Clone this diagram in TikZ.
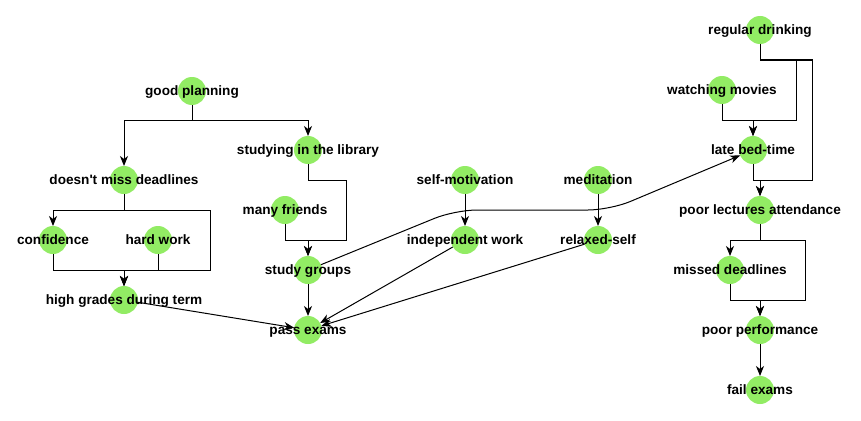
\documentclass[tikz,border=0pt]{standalone}
\usepackage{fontspec}
\setmainfont{Liberation Sans}
\usetikzlibrary{arrows.meta,calc}
\definecolor{nodegreen}{RGB}{146,236,100}
\newcommand\mkcnode[4]{\node[dot] (#1) at (#2,#3) {}; \node[lbl] (#1-t) at ($(#1)+(0,4.8)$) {#4};}
\begin{document}
\begin{tikzpicture}[x=1pt,y=-1pt,
  dot/.style={circle,fill=nodegreen,minimum size=28pt,inner sep=0pt,outer sep=0pt},
  lbl/.style={font=\bfseries\fontsize{13.6}{16}\selectfont,inner sep=0pt,text=black,anchor=base},
  arr/.style={draw=black,line width=1pt,-{Stealth[length=10pt,width=8pt,inset=3pt]}},
  ln/.style={draw=black,line width=1pt}]
\useasboundingbox[fill=white] (0,0) rectangle (861,420);

% left cluster
\mkcnode{gp}{192}{91}{good planning}
\mkcnode{sil}{308}{150}{studying in the library}
\mkcnode{dmd}{124}{180}{doesn\textquotesingle t miss deadlines}
\mkcnode{conf}{53}{240}{confidence}
\mkcnode{hw}{158}{240}{hard work}
\mkcnode{mf}{285}{210}{many friends}
\mkcnode{hg}{124}{300}{high grades during term}
\mkcnode{sg}{308}{270}{study groups}
\mkcnode{pe}{308}{330}{pass exams}
% middle
\mkcnode{sm}{465}{180}{self-motivation}
\mkcnode{med}{598}{180}{meditation}
\mkcnode{iw}{465}{240}{independent work}
\mkcnode{rs}{598}{240}{relaxed-self}
% right
\mkcnode{rd}{760}{30}{regular drinking}
\mkcnode{wm}{722}{90}{watching movies}
\mkcnode{lbt}{753}{150}{late bed-time}
\mkcnode{pla}{760}{210}{poor lectures attendance}
\mkcnode{md}{730}{270}{missed deadlines}
\mkcnode{pp}{760}{330}{poor performance}
\mkcnode{fe}{760}{390}{fail exams}

% bend coordinates
\coordinate (gpb) at (192,120);
\coordinate (dmdb) at (124,210);
\coordinate (boxR1) at (210,210);
\coordinate (boxR2) at (210,270);
\coordinate (hgin) at (124,270);
\coordinate (silb) at (308,180);
\coordinate (silR1) at (346,180);
\coordinate (silR2) at (346,240);
\coordinate (sgin) at (308,240);
\coordinate (rdb) at (760,60);
\coordinate (rdR1) at (796,60);
\coordinate (rdR2) at (796,120);
\coordinate (rdF1) at (812,60);
\coordinate (rdF2) at (812,180);
\coordinate (lbtin) at (753,120);
\coordinate (plain) at (760,180);
\coordinate (plab) at (760,240);
\coordinate (plaR1) at (805,240);
\coordinate (plaR2) at (805,300);
\coordinate (ppin) at (760,300);
\coordinate (cv1) at (455,210);
\coordinate (cv2) at (610,210);

% connectors
\draw[arr] (gp.south) -- (gpb) -| (dmd.north);
\draw[arr] (gp.south) -- (gpb) -| (sil.north);
\draw[arr] (dmd.south) -- (dmdb) -| (conf.north);
\draw[arr] (dmd.south) -- (dmdb) -- (boxR1) -- (boxR2) -- (hgin) -- (hg.north);
\draw[arr] (conf.south) |- (hgin) -- (hg.north);
\draw[arr] (hw.south) |- (hgin) -- (hg.north);
\draw[arr] (sil.south) -- (silb) -- (silR1) -- (silR2) -- (sgin) -- (sg.north);
\draw[arr] (mf.south) |- (sgin) -- (sg.north);
\draw[arr] (sg) -- (pe);
\draw[arr] (hg) -- (pe);
\draw[arr] (iw) -- (pe);
\draw[arr] (rs) -- (pe);
\draw[arr] (sm) -- (iw);
\draw[arr] (med) -- (rs);
\draw[arr, rounded corners=22pt] (sg) -- (cv1) -- (cv2) -- (lbt);
\draw[arr] (rd.south) -- (rdb) -- (rdR1) -- (rdR2) -| (lbt.north);
\draw[arr] (wm.south) |- (lbtin) -- (lbt.north);
\draw[arr] (rd.south) -- (rdb) -- (rdF1) -- (rdF2) -- (plain) -- (pla.north);
\draw[arr] (lbt.south) |- (plain) -- (pla.north);
\draw[arr] (pla.south) -- (plab) -| (md.north);
\draw[arr] (pla.south) -- (plab) -- (plaR1) -- (plaR2) -- (ppin) -- (pp.north);
\draw[arr] (md.south) |- (ppin) -- (pp.north);
\draw[arr] (pp) -- (fe);
\end{tikzpicture}
\end{document}
